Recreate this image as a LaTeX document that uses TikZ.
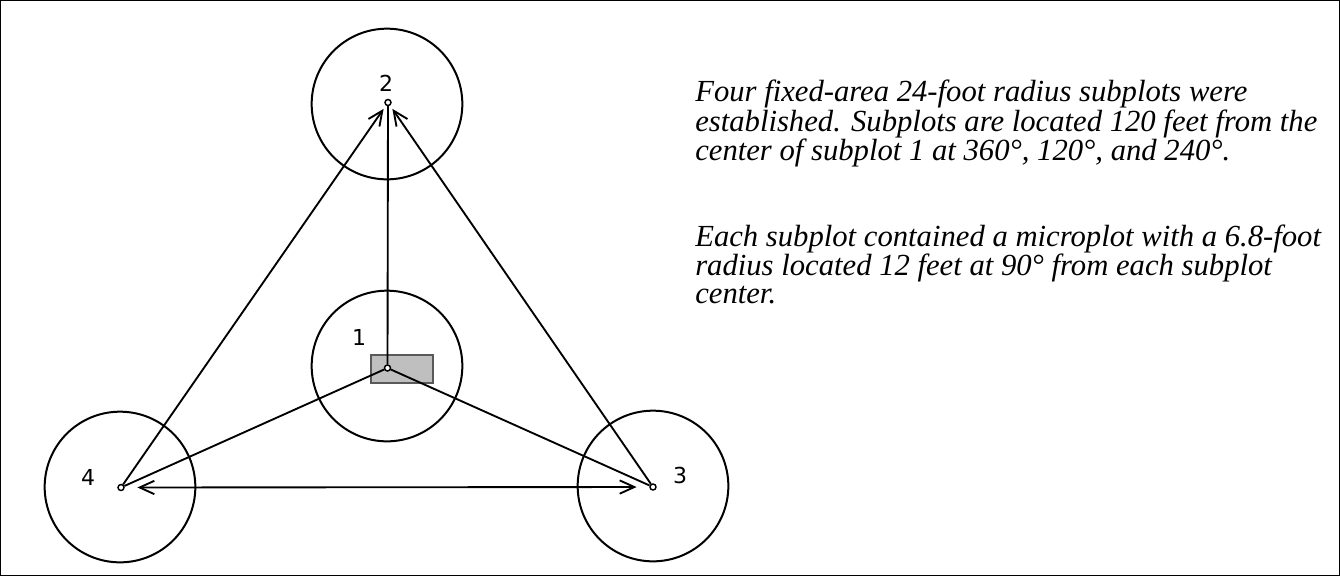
\documentclass[tikz,border=0pt]{standalone}
\usepackage{fontspec}
\setmainfont{Liberation Serif}
\newfontfamily\labelfont{DejaVu Sans}
\usetikzlibrary{arrows.meta}

\begin{document}
\begin{tikzpicture}[
  x=0.75pt, y=-0.75pt,
  subplot/.style={draw, circle, line width=1.5pt, minimum size=113pt, inner sep=0pt},
  ctr/.style={draw, circle, line width=1.1pt, minimum size=4.5pt, inner sep=0pt, fill=white},
  num/.style={font=\labelfont\fontsize{16.5}{16.5}\selectfont, inner sep=0pt},
  link/.style={line width=1.4pt},
  note/.style={font=\itshape\fontsize{23}{21}\selectfont, align=left, inner sep=0pt},
]
\useasboundingbox (0,0) rectangle (1340,576);
\draw[line width=0.75pt] (0.5,0.5) rectangle (1339.5,575.5);
% Subplots (24-foot radius)
\node[subplot] (c1) at (387,366) {};
\node[subplot] (c2) at (387,104) {};
\node[subplot] (c3) at (653,486) {};
\node[subplot] (c4) at (120,487) {};
% Microplot
\draw[fill=black!25, draw=black!65, line width=0.8pt] (371,355) rectangle (433,383);
% Plot centres
\node[ctr] (d1) at (387.5,368) {};
\node[ctr] (d2) at (388,102.5) {};
\node[ctr] (d3) at (653,487) {};
\node[ctr] (d4) at (121,487.5) {};
\node[num] (n1) at (359,337) {1};
\node[num] (n2) at (386,83) {2};
\node[num] (n3) at (680,475) {3};
\node[num] (n4) at (88,477) {4};
% Connectors
\draw[link] (d1) -- (d2);
\draw[link] (d1) -- (d3);
\draw[link] (d1) -- (d4);
\draw[link, -{Straight Barb[length=11pt,width=10pt]}, shorten >=3pt] (d4) -- (d2);
\draw[link, -{Straight Barb[length=11pt,width=10pt]}, shorten >=3pt] (d3) -- (d2);
\draw[link, {Straight Barb[length=11pt,width=10pt]}-{Straight Barb[length=11pt,width=10pt]},
  shorten <=9.5pt, shorten >=9.5pt] (d4) -- (d3);
% Description
\node[note, anchor=north west] (txt) at (695,80) {Four fixed-area 24-foot radius subplots were\\
  established. Subplots are located 120 feet from the\\
  center of subplot 1 at 360\textdegree, 120\textdegree, and 240\textdegree.\\[42pt]
  Each subplot contained a microplot with a 6.8-foot\\
  radius located 12 feet at 90\textdegree{} from each subplot\\
  center.};
\end{tikzpicture}
\end{document}
